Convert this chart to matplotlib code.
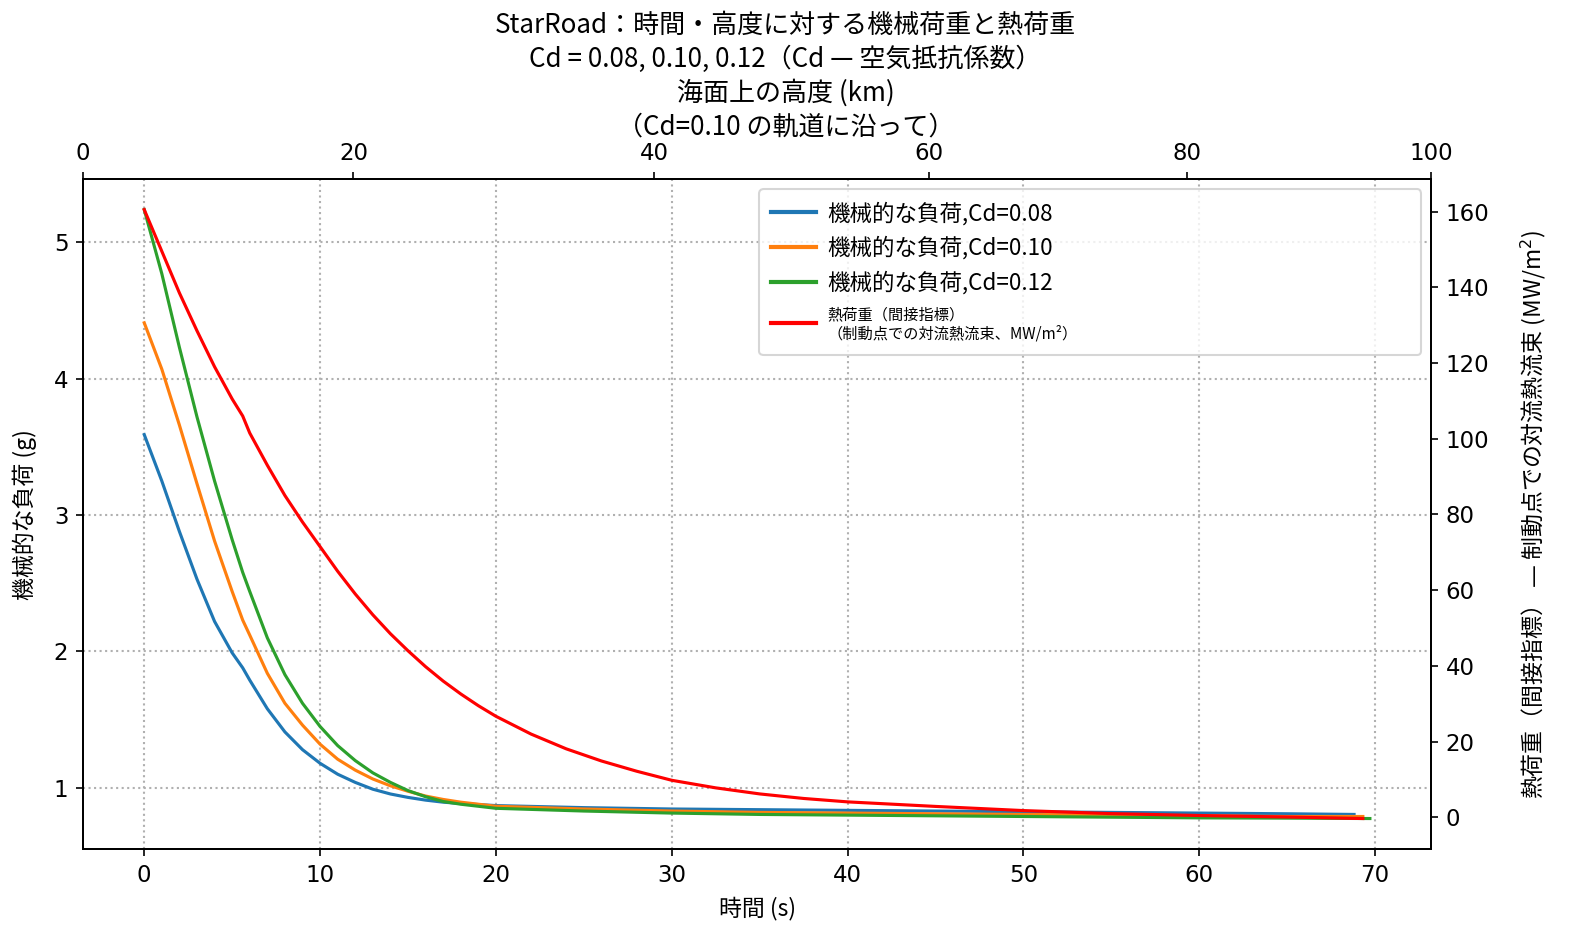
import matplotlib
matplotlib.use("Agg")
import matplotlib.pyplot as plt

plt.rcParams['font.family'] = ['Noto Sans CJK JP', 'DejaVu Sans']
plt.rcParams['font.size'] = 11

# 機械的な負荷 (g) — Cd ごと
t_cd008 = [0, 1, 2, 3, 4, 5, 5.6, 6, 7, 8, 9, 10, 11, 12, 13, 14, 15, 16, 17, 18,
           20, 25, 30, 35, 40, 45, 50, 55, 60, 65, 68.8]
g_cd008 = [3.59, 3.25, 2.88, 2.53, 2.22, 1.99, 1.88, 1.79, 1.58, 1.41, 1.28, 1.18, 1.10,
           1.04, 0.99, 0.955, 0.93, 0.91, 0.895, 0.885, 0.87, 0.855, 0.845, 0.84, 0.835,
           0.83, 0.825, 0.82, 0.815, 0.81, 0.805]

t_cd010 = [0, 1, 2, 3, 4, 5, 5.6, 6, 7, 8, 9, 10, 11, 12, 13, 14, 15, 16, 17, 18,
           20, 25, 30, 35, 40, 45, 50, 55, 60, 65, 69.3]
g_cd010 = [4.41, 4.07, 3.66, 3.23, 2.81, 2.44, 2.23, 2.12, 1.84, 1.62, 1.46, 1.32, 1.21,
           1.13, 1.065, 1.015, 0.975, 0.94, 0.915, 0.895, 0.865, 0.845, 0.83, 0.82, 0.815,
           0.81, 0.805, 0.80, 0.795, 0.79, 0.79]

t_cd012 = [0, 1, 2, 3, 4, 5, 5.6, 6, 7, 8, 9, 10, 11, 12, 13, 14, 15, 16, 17, 18,
           20, 25, 30, 35, 40, 45, 50, 55, 60, 65, 69.7]
g_cd012 = [5.24, 4.77, 4.23, 3.72, 3.25, 2.82, 2.58, 2.44, 2.10, 1.83, 1.62, 1.45, 1.31,
           1.20, 1.11, 1.04, 0.98, 0.935, 0.90, 0.88, 0.85, 0.83, 0.815, 0.805, 0.80,
           0.795, 0.79, 0.785, 0.78, 0.778, 0.775]

# 熱荷重 (MW/m^2), Cd=0.10
t_heat = [0, 1, 2, 3, 4, 5, 5.6, 6, 7, 8, 9, 10, 11, 12, 13, 14, 15, 16, 17, 18, 19,
          20, 22, 24, 26, 28, 30, 32.5, 35, 37.5, 40, 45, 50, 55, 60, 65, 69.3]
q_heat = [160.5, 149.5, 138.5, 128.5, 119, 110.5, 106, 101.5, 93, 85, 78, 71.5, 65,
          59, 53.5, 48.5, 44, 39.8, 36, 32.6, 29.5, 26.7, 22, 18.1, 14.9, 12.2, 9.8,
          7.8, 6.2, 5.0, 4.1, 2.9, 1.8, 1.0, 0.5, 0.1, -0.3]

# 上軸: 高度 (km) とその時刻
alt_labels = [0, 20, 40, 60, 80, 100]
alt_times_mid = [11.9, 29.0, 44.6, 59.3]

fig, ax = plt.subplots(figsize=(1571 / 150, 943 / 150), dpi=150)
fig.subplots_adjust(left=0.0528, right=0.911, bottom=0.0997, top=0.810)

l1, = ax.plot(t_cd008, g_cd008, color='tab:blue', lw=1.5, label='機械的な負荷,Cd=0.08')
l2, = ax.plot(t_cd010, g_cd010, color='tab:orange', lw=1.5, label='機械的な負荷,Cd=0.10')
l3, = ax.plot(t_cd012, g_cd012, color='tab:green', lw=1.5, label='機械的な負荷,Cd=0.12')
ax.set_xlabel('時間 (s)', fontsize=11, labelpad=5)
ax.set_ylabel('機械的な負荷 (g)', fontsize=11, labelpad=8)
ax.grid(True, linestyle=':', color='#b0b0b0', linewidth=1.0)
ax.tick_params(labelfontfamily='DejaVu Sans', labelsize=11)

ax2 = ax.twinx()
l4, = ax2.plot(t_heat, q_heat, color='red', lw=1.5,
               label='熱荷重（間接指標）\n（制動点での対流熱流束、MW/m²）')
ax2.set_ylabel('熱荷重（間接指標） — 制動点での対流熱流束 (MW/m$^2$)', fontsize=11,
               labelpad=14)
ax2.tick_params(labelfontfamily='DejaVu Sans', labelsize=11)

# 高度の上軸
lo, hi = ax.get_xlim()
ax_top = ax.twiny()
ax_top.set_xlim(lo, hi)
ax_top.set_xticks([lo] + alt_times_mid + [hi])
ax_top.set_xticklabels([str(a) for a in alt_labels])
ax_top.tick_params(labelfontfamily='DejaVu Sans', labelsize=11)

leg = ax_top.legend(handles=[l1, l2, l3, l4], loc='upper left',
                    bbox_to_anchor=(0.5015, 0.5, 0.491, 0.485), mode='expand',
                    borderaxespad=0, fontsize=10.8, handletextpad=0.5,
                    borderpad=0.55)
for h in leg.legend_handles:
    h.set_linewidth(2.0)
leg.get_texts()[3].set_fontsize(7.3)

fig.text(0.5, 1 - 12 / 943,
         'StarRoad：時間・高度に対する機械荷重と熱荷重\n'
         'Cd = 0.08, 0.10, 0.12（Cd — 空気抵抗係数）\n'
         '海面上の高度 (km)\n'
         '（Cd=0.10 の軌道に沿って）',
         ha='center', va='top', fontsize=12.5, linespacing=1.3)

fig.savefig('out.png', dpi=150)
